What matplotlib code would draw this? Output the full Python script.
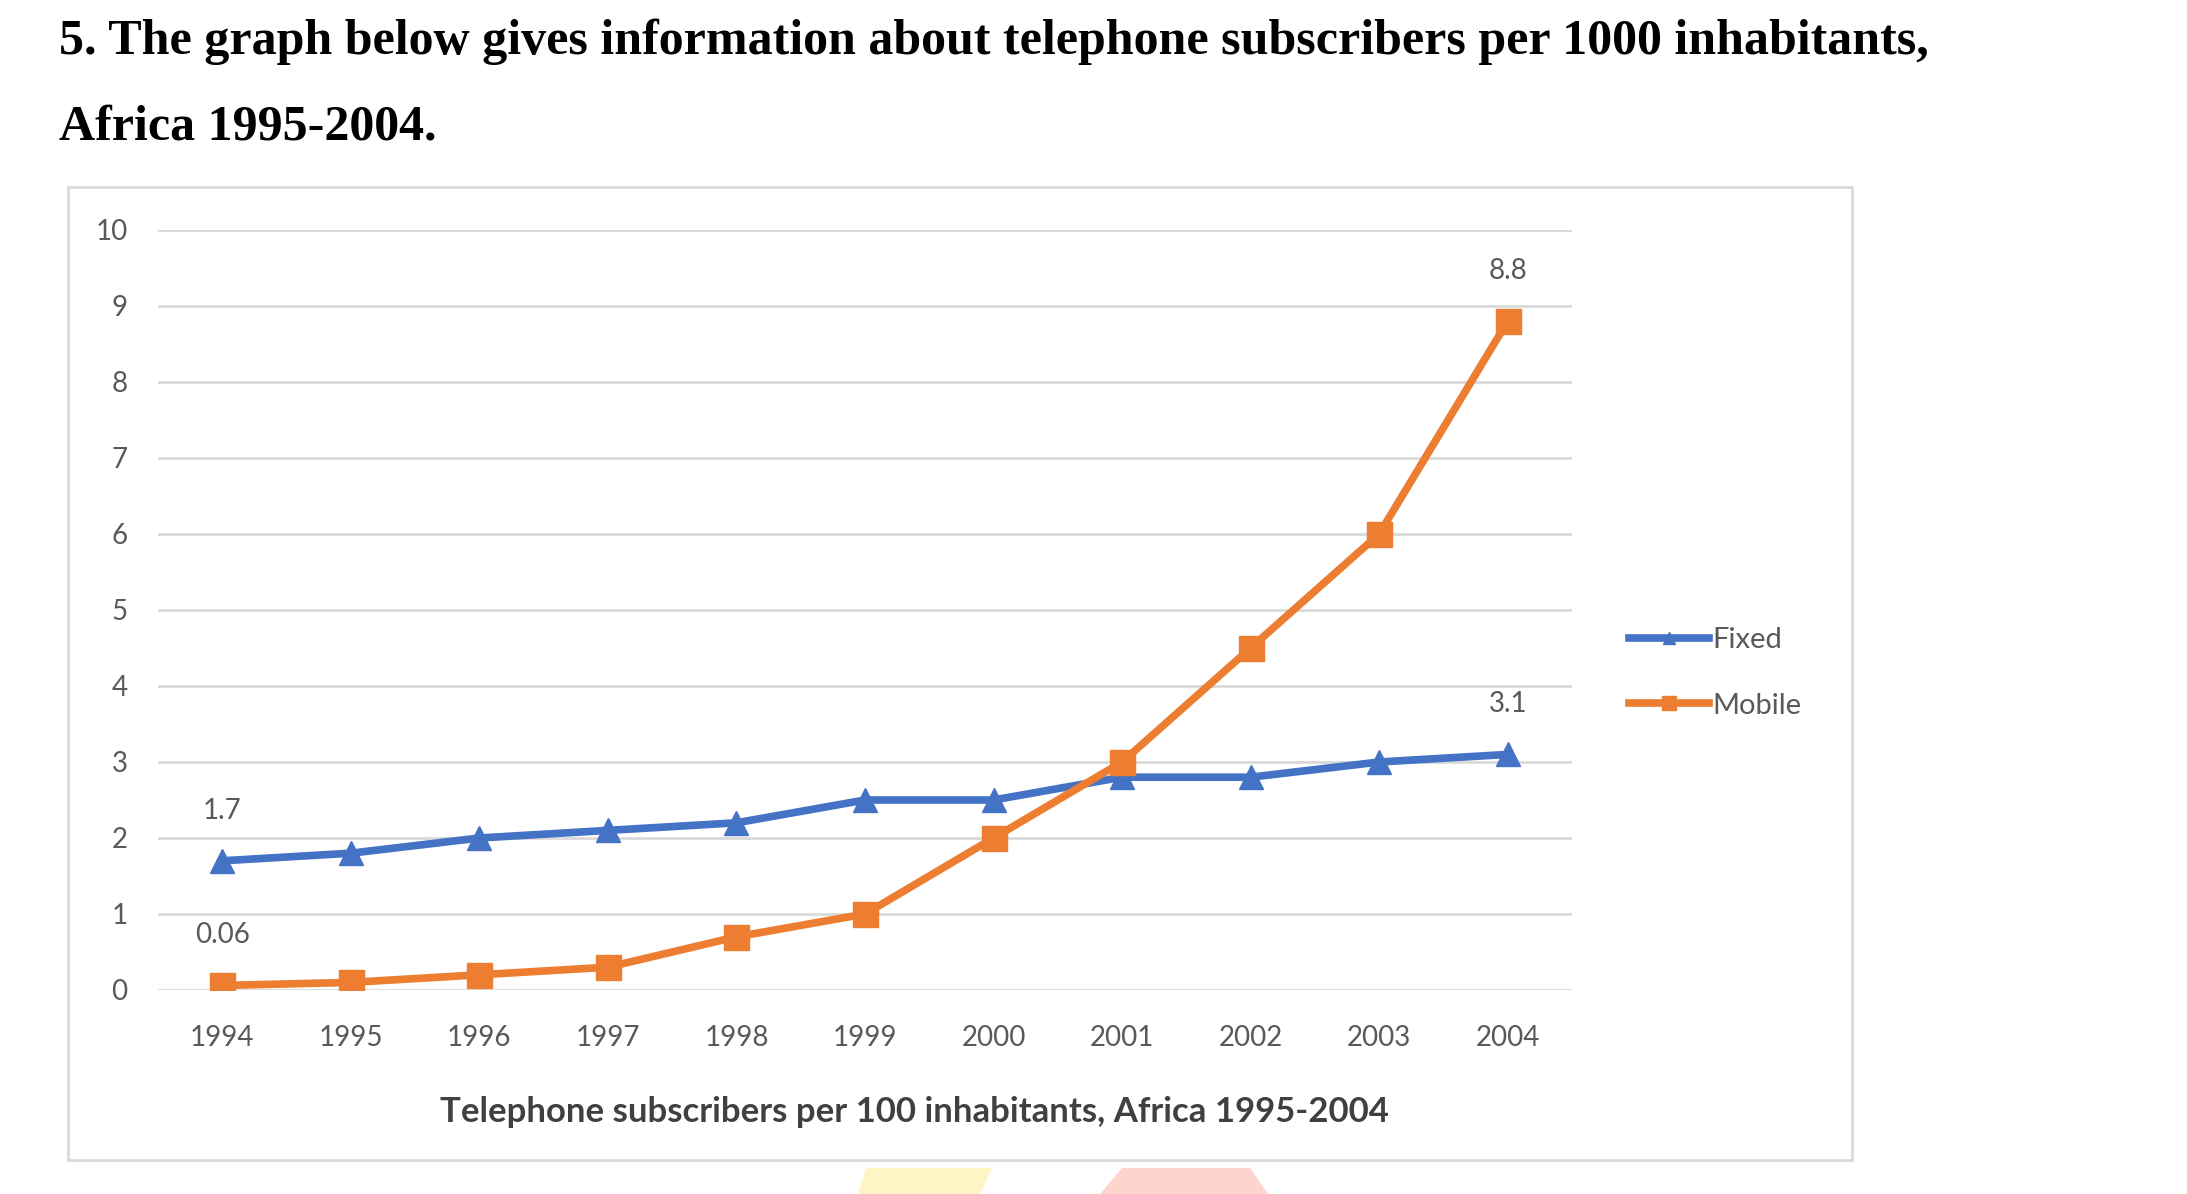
import numpy as np
import matplotlib.pyplot as plt
from matplotlib.patches import Rectangle, Polygon

years = ['1994', '1995', '1996', '1997', '1998', '1999', '2000', '2001', '2002', '2003', '2004']
fixed = [1.7, 1.8, 2.0, 2.1, 2.2, 2.5, 2.5, 2.8, 2.8, 3.0, 3.1]
mobile = [0.06, 0.1, 0.2, 0.3, 0.7, 1.0, 2.0, 3.0, 4.5, 6.0, 8.8]
fixed_labels = {0: '1.7', 10: '3.1'}
mobile_labels = {0: '0.06', 10: '8.8'}
yticks = list(range(0, 11))

W, H = 2187, 1194
fig = plt.figure(figsize=(W / 100, H / 100), dpi=100)

# question text above the chart
fig.text(59 / W, 1 - 54 / H,
         '5. The graph below gives information about telephone subscribers per 1000 inhabitants,',
         family='Liberation Serif', weight='bold', fontsize=36, va='baseline', ha='left')
fig.text(59 / W, 1 - 140 / H, 'Africa 1995-2004.',
         family='Liberation Serif', weight='bold', fontsize=36, va='baseline', ha='left')

# chart border
fig.patches.append(Rectangle((68 / W, 1 - 1160 / H), (1852 - 68) / W, (1160 - 187) / H,
                             transform=fig.transFigure, fill=False,
                             edgecolor='#D9D9D9', lw=2))

# partial watermark shapes at the bottom edge
fig.patches.append(Polygon([(866 / W, 1 - 1168 / H), (992 / W, 1 - 1168 / H),
                            (980 / W, 0), (858 / W, 0)],
                           transform=fig.transFigure, facecolor='#FFF4C4', edgecolor='none'))
fig.patches.append(Polygon([(1122 / W, 1 - 1168 / H), (1250 / W, 1 - 1168 / H),
                            (1268 / W, 0), (1100 / W, 0)],
                           transform=fig.transFigure, facecolor='#FDD5CC', edgecolor='none'))

ax = fig.add_axes([158 / W, 1 - 990 / H, (1572 - 158) / W, (990 - 230) / H])
x = np.arange(len(years))

ax.plot(x, fixed, color='#4472C4', lw=5.5, marker='^', markersize=17, label='Fixed', zorder=3)
ax.plot(x, mobile, color='#ED7D31', lw=5.5, marker='s', markersize=18, label='Mobile', zorder=3)

for i, t in fixed_labels.items():
    ax.annotate(t, (x[i], fixed[i]), xytext=(0, 36), textcoords='offset points',
                ha='center', va='center', fontsize=20, color='#595959', family='Lato')
for i, t in mobile_labels.items():
    ax.annotate(t, (x[i], mobile[i]), xytext=(0, 36), textcoords='offset points',
                ha='center', va='center', fontsize=20, color='#595959', family='Lato')

ax.set_xlim(-0.5, len(years) - 0.5)
ax.set_ylim(0, 10)
ax.set_yticks(yticks)
ax.set_xticks(x)
ax.set_xticklabels(years)
ax.yaxis.grid(True, color='#D9D9D9', lw=2)
ax.set_axisbelow(True)
for s in ax.spines.values():
    s.set_visible(False)
ax.tick_params(axis='both', length=0, labelsize=20, labelcolor='#595959')
ax.tick_params(axis='y', pad=22)
ax.tick_params(axis='x', pad=25)
for lab in ax.get_xticklabels() + ax.get_yticklabels():
    lab.set_family('Lato')

fig.text(914 / W, 1 - 1112 / H, 'Telephone subscribers per 100 inhabitants, Africa 1995-2004',
         ha='center', va='center', fontsize=25, color='#404040', family='Lato', weight='bold')

leg = ax.legend(loc='center left', bbox_to_anchor=(1629 / W, 1 - 673 / H),
                bbox_transform=fig.transFigure, frameon=False, fontsize=21,
                borderpad=0, borderaxespad=0, handlelength=2.75, handletextpad=0.1,
                labelspacing=1.35, markerscale=0.55)
for t in leg.get_texts():
    t.set_color('#595959')
    t.set_family('Lato')

fig.savefig('out.png', dpi=100)
